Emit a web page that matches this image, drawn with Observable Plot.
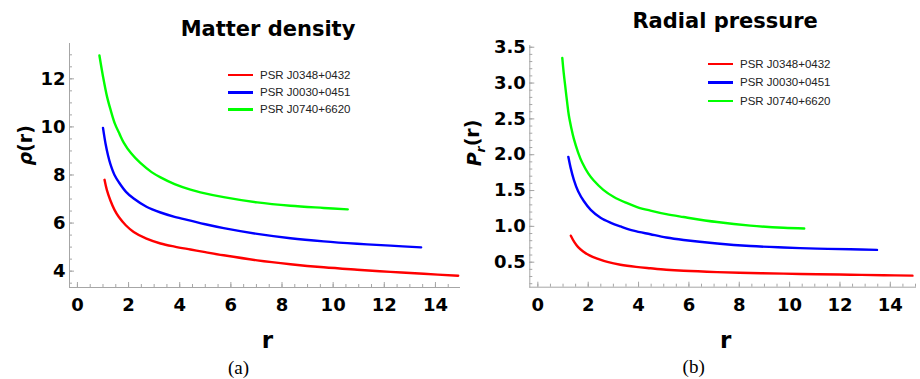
<!DOCTYPE html>
<html>
<head>
<meta charset="utf-8">
<script src="https://cdn.jsdelivr.net/npm/d3@7"></script>
<script src="https://cdn.jsdelivr.net/npm/@observablehq/plot@0.6"></script>
<style>
  html, body { margin: 0; padding: 0; background: #fff; }
  #wrap { position: relative; width: 920px; height: 379px; display: flex; overflow: hidden; }
  .panel { position: relative; width: 460px; height: 379px; }
  .legend { position: absolute; font-family: "Liberation Sans", Arial, sans-serif; font-size: 11.5px; color: #222; }
  .legend .row { display: flex; align-items: center; white-space: nowrap; }
  .legend .sw { display: inline-block; width: 25px; height: 2.5px; margin-right: 7px; }
</style>
</head>
<body>
<div id="wrap"></div>
<script>
// ---- data ----
const seriesNames = ["PSR J0348+0432", "PSR J0030+0451", "PSR J0740+6620"];
const seriesColors = ["#ff0000", "#0000ff", "#00ff00"];

// Panel (a): matter density rho(r)
const rhoR_J0348 = [1.06, 1.15, 1.29, 1.45, 1.62, 1.9, 2.2, 2.7, 3.25, 3.8, 4.42, 5.0, 5.72, 7.03, 8.33, 9.63, 10.94, 12.24, 13.54, 14.89];
const rhoV_J0348 = [7.80, 7.38, 6.94, 6.55, 6.25, 5.90, 5.63, 5.35, 5.15, 5.02, 4.90, 4.79, 4.66, 4.45, 4.29, 4.16, 4.06, 3.97, 3.89, 3.81];
const rhoR_J0030 = [1.0, 1.1, 1.2, 1.29, 1.45, 1.62, 1.9, 2.2, 2.7, 3.25, 3.8, 4.42, 5.0, 5.72, 7.03, 8.33, 9.63, 10.94, 12.24, 13.44];
const rhoV_J0030 = [9.96, 9.30, 8.80, 8.45, 8.00, 7.70, 7.30, 7.02, 6.68, 6.44, 6.26, 6.10, 5.95, 5.79, 5.55, 5.37, 5.24, 5.14, 5.06, 4.99];
const rhoR_J0740 = [0.86, 1.0, 1.16, 1.3, 1.46, 1.65, 1.81, 2.1, 2.46, 2.9, 3.25, 3.8, 4.42, 4.81, 5.72, 7.03, 8.33, 9.63, 10.57];
const rhoV_J0740 = [12.97, 12.1, 11.25, 10.7, 10.15, 9.70, 9.35, 8.90, 8.50, 8.12, 7.90, 7.62, 7.39, 7.28, 7.08, 6.86, 6.72, 6.63, 6.57];

// Panel (b): radial pressure P_r(r)
const prR_J0348 = [1.31, 1.45, 1.6, 1.8, 2.05, 2.36, 2.8, 3.28, 3.9, 4.47, 5.1, 5.79, 7.12, 8.44, 9.76, 11.09, 12.41, 13.73, 14.88];
const prV_J0348 = [0.87, 0.78, 0.71, 0.65, 0.595, 0.55, 0.50, 0.465, 0.435, 0.415, 0.395, 0.38, 0.362, 0.35, 0.34, 0.332, 0.325, 0.318, 0.312];
const prR_J0030 = [1.21, 1.3, 1.43, 1.6, 1.83, 2.1, 2.49, 2.9, 3.28, 3.8, 4.47, 5.1, 5.79, 7.12, 8.44, 9.76, 11.09, 12.41, 13.47];
const prV_J0030 = [1.97, 1.82, 1.65, 1.49, 1.35, 1.23, 1.12, 1.05, 1.0, 0.94, 0.89, 0.845, 0.81, 0.76, 0.725, 0.705, 0.69, 0.68, 0.672];
const prR_J0740 = [0.97, 1.03, 1.1, 1.16, 1.23, 1.33, 1.43, 1.6, 1.76, 2.0, 2.22, 2.6, 3.02, 3.5, 3.94, 4.47, 5.1, 5.79, 7.12, 8.44, 9.76, 10.58];
const prV_J0740 = [3.35, 3.13, 2.92, 2.74, 2.55, 2.37, 2.22, 2.03, 1.89, 1.74, 1.64, 1.51, 1.41, 1.33, 1.27, 1.22, 1.17, 1.13, 1.06, 1.01, 0.98, 0.97];

// ticks
const xMajorTicks = [0, 2, 4, 6, 8, 10, 12, 14];
const xMinorTicks = d3.range(0, 15.01, 0.5);
const rhoMajorTicks = [4, 6, 8, 10, 12];
const rhoMinorTicks = d3.range(3.5, 13.5, 0.5);
const prMajorTicks = [0.5, 1.0, 1.5, 2.0, 2.5, 3.0, 3.5];
const prMinorTicks = d3.range(0.2, 3.51, 0.1);

function table(rs, vs) {
  return seriesNames.flatMap((n, i) => rs[i].map((r, j) => ({name: n, r, v: vs[i][j]})));
}

const AX = "#a6a6a6";

function makePanel(o) {
  const data = table(o.rs, o.vs);
  return Plot.plot({
    width: 460,
    height: 379,
    marginLeft: o.ml, marginRight: o.mr, marginTop: o.mt, marginBottom: o.mb,
    style: {fontFamily: "DejaVu Sans", background: "#fff", overflow: "visible"},
    x: {domain: o.xDomain, label: null},
    y: {domain: o.yDomain, label: null},
    color: {domain: seriesNames, range: seriesColors},
    marks: [
      Plot.frame({anchor: "left", stroke: AX}),
      Plot.frame({anchor: "bottom", stroke: AX}),
      Plot.axisX({ticks: xMinorTicks, tickSize: -3, text: null, stroke: AX, label: null}),
      Plot.axisX({ticks: xMajorTicks, tickSize: -5, text: null, stroke: AX, label: null}),
      Plot.axisX({ticks: xMajorTicks, tickSize: 0, tickPadding: 11, fontSize: 18, fontWeight: "bold", tickFormat: d3.format("d"), label: null}),
      Plot.axisY({ticks: o.yMinor, tickSize: -3, text: null, stroke: AX, label: null}),
      Plot.axisY({ticks: o.yMajor, tickSize: -5, text: null, stroke: AX, label: null}),
      Plot.axisY({ticks: o.yMajor, tickSize: 0, tickPadding: 4, fontSize: 18, fontWeight: "bold", tickFormat: o.yFormat, label: null}),
      Plot.line(data, {x: "r", y: "v", z: "name", stroke: "name", strokeWidth: 2.4, curve: "catmull-rom"}),
      Plot.text([o.title], {text: d => d, frameAnchor: "top", dx: o.titleDx, dy: o.titleDy, fontSize: 21, fontWeight: "bold", lineAnchor: "middle"}),
      Plot.text(["r"], {text: d => d, frameAnchor: "bottom", dx: o.rDx, dy: 53, fontSize: 23, fontWeight: "bold", lineAnchor: "middle"}),
      Plot.text([o.caption], {text: d => d, frameAnchor: "bottom", dx: o.capDx, dy: 80, fontSize: 19, fontFamily: "Liberation Serif", lineAnchor: "middle"}),
      Plot.text([o.ylabel], {text: d => d, frameAnchor: "left", dx: o.ylabelDx, rotate: -90, fontSize: 19, fontWeight: "bold", lineAnchor: "middle"})
    ]
  });
}

const wrap = document.getElementById("wrap");

const panelA = document.createElement("div"); panelA.className = "panel";
panelA.appendChild(makePanel({
  rs: [rhoR_J0348, rhoR_J0030, rhoR_J0740], vs: [rhoV_J0348, rhoV_J0030, rhoV_J0740],
  ml: 69, mr: 0, mt: 43, mb: 92,
  xDomain: [-0.31, 14.98], yDomain: [3.32, 13.47],
  yMajor: rhoMajorTicks, yMinor: rhoMinorTicks, yFormat: d3.format("d"),
  title: "Matter density", titleDx: 3, titleDy: -14.5,
  rDx: 2.5, caption: "(a)", capDx: -26.5, ylabel: "RHO", ylabelDx: -44
}));
const panelB = document.createElement("div"); panelB.className = "panel";
panelB.appendChild(makePanel({
  rs: [prR_J0348, prR_J0030, prR_J0740], vs: [prV_J0348, prV_J0030, prV_J0740],
  ml: 69.3, mr: 5, mt: 45, mb: 92.3,
  xDomain: [-0.32, 15.0], yDomain: [0.151, 3.524],
  yMajor: prMajorTicks, yMinor: prMinorTicks, yFormat: d3.format(".1f"),
  title: "Radial pressure", titleDx: 2.5, titleDy: -24.5,
  rDx: 3, caption: "(b)", capDx: -29, ylabel: "PRR", ylabelDx: -55
}));
wrap.appendChild(panelA);
wrap.appendChild(panelB);

// rich y labels (italic symbols, subscript)
d3.selectAll("svg text").each(function() {
  const t = d3.select(this);
  if (this.textContent === "RHO") {
    t.text(null);
    t.append("tspan").attr("font-style", "italic").text("ρ");
    t.append("tspan").text("(r)");
  } else if (this.textContent === "PRR") {
    t.text(null);
    t.append("tspan").attr("font-style", "italic").text("P");
    t.append("tspan").attr("font-style", "italic").attr("font-size", "0.65em").attr("dy", "0.3em").text("r");
    t.append("tspan").attr("dy", "-0.3em").text("(r)");
  }
});

// legends
function addLegend(panel, left, top, rowH) {
  const lg = document.createElement("div");
  lg.className = "legend";
  lg.style.left = left + "px";
  lg.style.top = top + "px";
  seriesNames.forEach((n, i) => {
    const row = document.createElement("div");
    row.className = "row";
    row.style.height = rowH + "px";
    const sw = document.createElement("span");
    sw.className = "sw";
    sw.style.background = seriesColors[i];
    const tx = document.createElement("span");
    tx.textContent = n;
    row.appendChild(sw); row.appendChild(tx);
    lg.appendChild(row);
  });
  panel.appendChild(lg);
}
addLegend(panelA, 228, 66.5, 17.2);
addLegend(panelB, 248, 54.7, 18.5);
</script>
</body>
</html>
